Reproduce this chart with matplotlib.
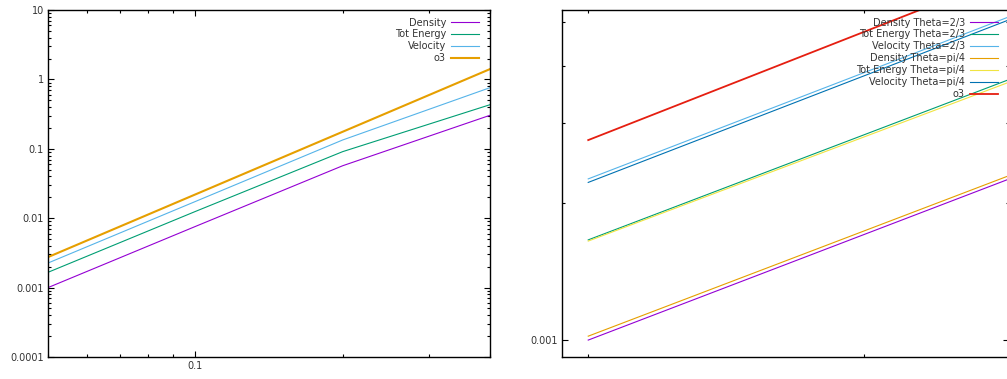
import numpy as np
import matplotlib
matplotlib.use("Agg")
import matplotlib.pyplot as plt
from matplotlib.ticker import LogLocator, FuncFormatter, NullFormatter

plt.rcParams['font.family'] = ['DejaVu Sans']
plt.rcParams['font.size'] = 7

# data
h = [0.05, 0.1, 0.2, 0.4]
density = [0.001, 0.0076, 0.057, 0.304]
tot_energy = [0.00166, 0.0125, 0.091, 0.432]
velocity = [0.00226, 0.0174, 0.134, 0.76]
o3 = [0.00275, 0.022, 0.176, 1.408]

# theta = pi/4 runs
density_pi4 = [0.00102, 0.0077, 0.056, 0.30]
tot_energy_pi4 = [0.00165, 0.0122, 0.089, 0.42]
velocity_pi4 = [0.00222, 0.0172, 0.13, 0.75]

purple = '#9400d3'
green = '#009e73'
lblue = '#56b4e9'
orange = '#e69f00'
yellow = '#f0e442'
dblue = '#0072b2'
red = '#e51e10'

W, H = 1007, 379
fig = plt.figure(figsize=(W / 100, H / 100), dpi=100)


def px_axes(left, top, right, bottom):
    return fig.add_axes([left / W, 1 - bottom / H, (right - left) / W, (bottom - top) / H])


def style(ax):
    ax.set_xscale('log')
    ax.set_yscale('log')
    for s in ax.spines.values():
        s.set_linewidth(1.0)
    ax.tick_params(which='both', direction='in', top=True, right=True, width=0.8, pad=3,
                   labelcolor='#333333')
    ax.tick_params(which='major', length=4)
    ax.tick_params(which='minor', length=2.2)
    ax.yaxis.set_major_locator(LogLocator(base=10, numticks=20))
    ax.yaxis.set_minor_locator(LogLocator(base=10, subs=np.arange(2, 10), numticks=20))
    ax.xaxis.set_major_locator(LogLocator(base=10, numticks=20))
    ax.xaxis.set_minor_locator(LogLocator(base=10, subs=np.arange(2, 10), numticks=20))
    fmt = FuncFormatter(lambda v, p: '%g' % v)
    ax.xaxis.set_major_formatter(fmt)
    ax.yaxis.set_major_formatter(fmt)
    ax.xaxis.set_minor_formatter(NullFormatter())
    ax.yaxis.set_minor_formatter(NullFormatter())


def key(ax, width_px):
    leg = ax.legend(loc='upper right', frameon=False, markerfirst=False, fontsize=7,
                    handlelength=2.9, handletextpad=0.5, labelspacing=0.2,
                    borderpad=0, borderaxespad=0,
                    bbox_to_anchor=(1 - 11 / width_px, 1 - 7.5 / 347))
    for t in leg.get_texts():
        t.set_color('#333333')


# left panel
ax1 = px_axes(48, 10, 490, 357)
style(ax1)
ax1.plot(h, density, color=purple, lw=0.8, label='Density')
ax1.plot(h, tot_energy, color=green, lw=0.8, label='Tot Energy')
ax1.plot(h, velocity, color=lblue, lw=0.8, label='Velocity')
ax1.plot(h, o3, color=orange, lw=1.5, label='o3')
ax1.set_xlim(0.05, 0.4)
ax1.set_ylim(1e-4, 10)
key(ax1, 442)

# right panel (zoomed, runs past the edge of the picture)
ax2 = px_axes(562, 10, 1009, 357)
style(ax2)
ax2.plot(h, density, color=purple, lw=0.8, label='Density Theta=2/3')
ax2.plot(h, tot_energy, color=green, lw=0.8, label='Tot Energy Theta=2/3')
ax2.plot(h, velocity, color=lblue, lw=0.8, label='Velocity Theta=2/3')
ax2.plot(h, density_pi4, color=orange, lw=0.8, label='Density Theta=pi/4')
ax2.plot(h, tot_energy_pi4, color=yellow, lw=0.8, label='Tot Energy Theta=pi/4')
ax2.plot(h, velocity_pi4, color=dblue, lw=0.8, label='Velocity Theta=pi/4')
ax2.plot(h, o3, color=red, lw=1.3, label='o3')
ax2.set_xlim(0.04914, 0.06605)
ax2.set_ylim(0.000918, 0.00531)
ax2.xaxis.set_major_formatter(NullFormatter())
key(ax2, 447)

fig.savefig('out.png', dpi=100)
